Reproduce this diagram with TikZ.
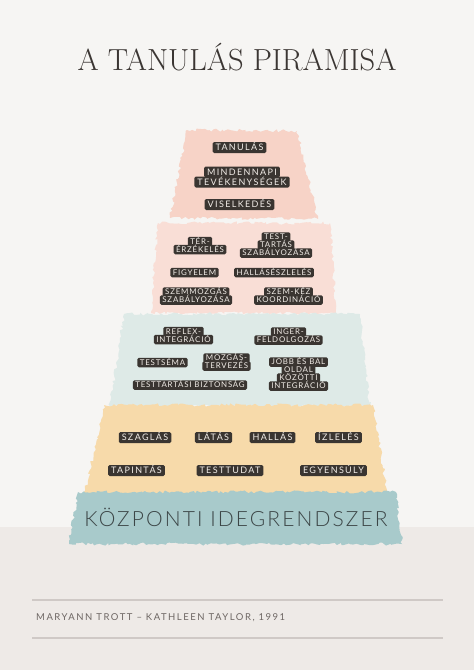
\documentclass[tikz,border=0pt]{standalone}
\usepackage{fontspec}
\usetikzlibrary{decorations.pathmorphing}
\newfontfamily\latoS[LetterSpace=10]{Lato}
\newfontfamily\latoB[LetterSpace=15]{Lato}
\newfontfamily\latoK[LetterSpace=10]{Lato Light}
\newfontfamily\latoF[LetterSpace=16]{Lato}
\definecolor{bgtop}{HTML}{F6F5F3}
\definecolor{bgbot}{HTML}{EEEAE7}
\definecolor{pinkA}{HTML}{F7D3C7}
\definecolor{pinkB}{HTML}{F9DED6}
\definecolor{blueC}{HTML}{DEEAE7}
\definecolor{yellowD}{HTML}{F7DAAA}
\definecolor{tealE}{HTML}{A8CACB}
\definecolor{pill}{HTML}{3A3531}
\definecolor{pilltext}{HTML}{F2EDE8}
\definecolor{titlec}{HTML}{3B3633}
\definecolor{kozpc}{HTML}{3C4647}
\definecolor{footc}{HTML}{6E6764}
\definecolor{rulec}{HTML}{CFC9C6}
\tikzset{
  band/.style={decorate, decoration={random steps, segment length=2.5pt, amplitude=1.6pt}},
  pillS/.style={fill=pill, text=pilltext, rounded corners=1.5pt, inner xsep=2.5pt, inner ysep=1.8pt,
    text height=5.9pt, text depth=0pt, font={\latoS\fontsize{7.9}{8}\selectfont}},
  pillB/.style={fill=pill, text=pilltext, rounded corners=1.5pt, inner xsep=3pt, inner ysep=2.2pt,
    text height=6.6pt, text depth=0pt, font={\latoB\fontsize{9}{10}\selectfont}},
  rule/.style={draw=rulec, line width=1.2pt},
}
\begin{document}
\begin{tikzpicture}[x=1pt, y=-1pt]
\pgfmathsetseed{42}
\useasboundingbox (0,0) rectangle (474,670);
\fill[bgtop] (0,0) rectangle (474,670);
\fill[bgbot] (0,527) rectangle (474,670);
% bands
\fill[pinkA, band] (187,130) -- (297,131) -- (318,219) -- (170,218) -- cycle;
\fill[pinkB, band] (158,223) -- (330,223) -- (336,313) -- (151,313) -- cycle;
\fill[blueC, band] (124,314) -- (360,314) -- (370,406) -- (110,406) -- cycle;
\fill[yellowD, band] (104,405) -- (373,405) -- (388,497) -- (84,497) -- cycle;
\fill[tealE, band] (78,492) -- (396,492) -- (402,544) -- (69,544) -- cycle;
% title
\node[text=titlec, font={\fontsize{30.5}{33}\selectfont}] (title) at (237,57) {A TANULÁS PIRAMISA};
% top band
\node[pillB] (tanulas) at (239.5,147.5) {TANULÁS};
\node[pillB] (mind1) at (242,172) {MINDENNAPI};
\node[pillB] (mind2) at (242,182) {TEVÉKENYSÉGEK};
\node[pillB] (viselk) at (239.5,204.5) {VISELKEDÉS};
% second band
\node[pillS] (ter1) at (200,241.5) {TÉR-};
\node[pillS] (ter2) at (200,249.5) {ÉRZÉKELÉS};
\node[pillS] (test1) at (276,237) {TEST-};
\node[pillS] (test2) at (276,245) {TARTÁS};
\node[pillS] (test3) at (276,253) {SZABÁLYOZÁSA};
\node[pillS] (figy) at (194.5,272.5) {FIGYELEM};
\node[pillS] (hallasz) at (274,272.5) {HALLÁSÉSZLELÉS};
\node[pillS] (szem1) at (196,292) {SZEMMOZGÁS};
\node[pillS] (szem2) at (196,300) {SZABÁLYOZÁSA};
\node[pillS] (szk1) at (288.5,292) {SZEM-KÉZ};
\node[pillS] (szk2) at (288.5,300) {KOORDINÁCIÓ};
% blue band
\node[pillS] (ref1) at (183.5,331.5) {REFLEX-};
\node[pillS] (ref2) at (183.5,339.5) {INTEGRÁCIÓ};
\node[pillS] (inger1) at (288.5,332) {INGER-};
\node[pillS] (inger2) at (288.5,340) {FELDOLGOZÁS};
\node[pillS] (testsema) at (162.5,362.5) {TESTSÉMA};
\node[pillS] (mozg1) at (226.5,358) {MOZGÁS-};
\node[pillS] (mozg2) at (226.5,366) {TERVEZÉS};
\node[pillS] (testtart) at (190,385) {TESTTARTÁSI BIZTONSÁG};
\node[pillS] (jobb1) at (298.5,362) {JOBB ÉS BAL};
\node[pillS] (jobb2) at (298.5,370) {OLDAL};
\node[pillS] (jobb3) at (298.5,378) {KÖZÖTTI};
\node[pillS] (jobb4) at (298.5,386) {INTEGRÁCIÓ};
% yellow band
\node[pillB] (szaglas) at (145,437.5) {SZAGLÁS};
\node[pillB] (latas) at (213.5,437.5) {LÁTÁS};
\node[pillB] (hallas) at (272.5,437.5) {HALLÁS};
\node[pillB] (izleles) at (338.5,437.5) {ÍZLELÉS};
\node[pillB] (tapintas) at (136.5,470.5) {TAPINTÁS};
\node[pillB] (testtudat) at (230,470.5) {TESTTUDAT};
\node[pillB] (egyens) at (333.5,470.5) {EGYENSÚLY};
% bottom band
\node[text=kozpc, font={\latoK\fontsize{21}{24}\selectfont}] (kozp) at (236,517) {KÖZPONTI IDEGRENDSZER};
% footer
\coordinate (r1a) at (32,600);
\coordinate (r1b) at (443,600);
\coordinate (r2a) at (32,638);
\coordinate (r2b) at (443,638);
\draw[rule] (r1a) -- (r1b);
\draw[rule] (r2a) -- (r2b);
\node[anchor=west, inner sep=0pt, text=footc, font={\latoF\fontsize{9.5}{10}\selectfont}] (foot) at (36,618) {MARYANN TROTT – KATHLEEN TAYLOR, 1991};
\end{tikzpicture}
\end{document}
